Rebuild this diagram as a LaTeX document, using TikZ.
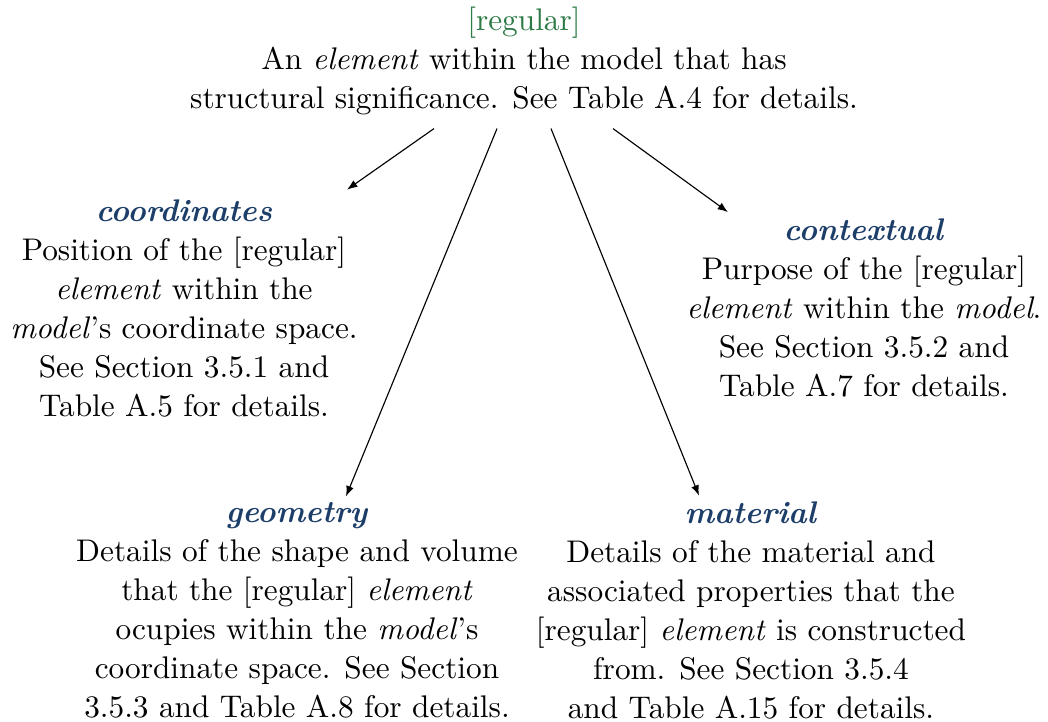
\documentclass[tikz,border=0pt]{standalone}
\usetikzlibrary{calc,arrows.meta}
\definecolor{tgreen}{RGB}{45,122,70}
\definecolor{tblue}{RGB}{28,62,105}
\begin{document}
\begin{tikzpicture}[x=0.30769pt,y=-0.30769pt,
  txt/.style={align=center,inner sep=0pt,font=\fontsize{9.63}{12}\selectfont},
  arr/.style={-{Latex[length=3.2pt,width=2.4pt]},line width=0.35pt}]
\useasboundingbox (0,0) rectangle (1048,722);
\newcommand{\ttl}[1]{\textcolor{tblue}{\textbf{\textit{#1}}}}
\node[txt] (top) at (524,61) {\textcolor{tgreen}{[regular]}\\An \textit{element} within the model that has\\structural significance. See Table A.4 for details.};
\node[txt] (coord) at (184,308) {\ttl{coordinates}\\Position of the [regular]\\\textit{element} within the\\\textit{model}'s coordinate space.\\See Section 3.5.1 and\\Table A.5 for details.};
\node[txt] (ctx) at (864,308) {\ttl{contextual}\\Purpose of the [regular]\\\textit{element} within the \textit{model}.\\See Section 3.5.2 and\\Table A.7 for details.};
\node[txt] (geo) at (297,610) {\ttl{geometry}\\Details of the shape and volume\\that the [regular] \textit{element}\\ocupies within the \textit{model}'s\\coordinate space. See Section\\3.5.3 and Table A.8 for details.};
\node[txt] (mat) at (751,610) {\ttl{material}\\Details of the material and\\associated properties that the\\{}[regular] \textit{element} is constructed\\from. See Section 3.5.4\\and Table A.15 for details.};
\draw[arr] ($(top.south)+(-90,13)$) -- ($(coord.north)+(163,-9)$);
\draw[arr] ($(top.south)+(-27,13)$) -- ($(geo.north)+(49,-5)$);
\draw[arr] ($(top.south)+(27,13)$) -- ($(mat.north)+(-52,-5)$);
\draw[arr] ($(top.south)+(89,13)$) -- ($(ctx.north)+(-136,-6)$);
\end{tikzpicture}
\end{document}
